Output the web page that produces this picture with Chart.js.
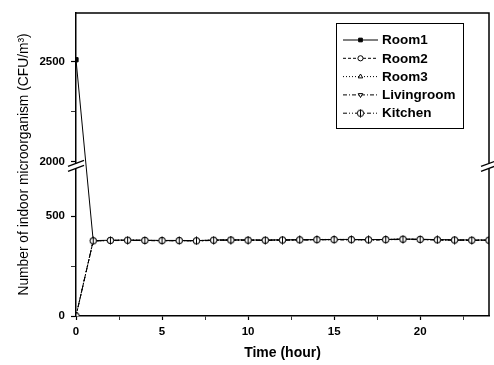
<!DOCTYPE html>
<html>
<head>
<meta charset="utf-8">
<script src="https://cdn.jsdelivr.net/npm/chart.js@4.4.1/dist/chart.umd.min.js"></script>
<style>
  html, body { margin: 0; padding: 0; background: #fff; }
  canvas { display: block; }
</style>
</head>
<body>
<canvas id="c" width="494" height="365"></canvas>
<script>
// hours on the x axis
const hours = [0, 1, 2, 3, 4, 5, 6, 7, 8, 9, 10, 11, 12, 13, 14, 15, 16, 17, 18, 19, 20, 21, 22, 23, 24];

// CFU/m3
const room1 =      [2510, 378, 380, 381, 380, 379, 379, 378, 381, 382, 381, 381, 382, 382, 383, 384, 384, 383, 384, 386, 385, 383, 382, 381, 381];
const room2 =      [0,    377, 379, 380, 379, 378, 378, 377, 380, 381, 381, 380, 381, 382, 383, 383, 383, 382, 383, 385, 384, 382, 381, 380, 380];
const room3 =      [0,    378, 379, 381, 380, 378, 379, 378, 381, 382, 381, 381, 382, 383, 384, 384, 384, 383, 384, 386, 384, 383, 382, 381, 381];
const livingroom = [0,    376, 378, 379, 378, 377, 377, 376, 379, 380, 380, 379, 380, 381, 382, 382, 382, 381, 382, 384, 383, 381, 380, 379, 379];
const kitchen =    [0,    377, 379, 380, 379, 378, 378, 377, 380, 381, 380, 380, 381, 382, 383, 383, 383, 382, 383, 385, 384, 382, 381, 380, 380];

const seriesNames = ['Room1', 'Room2', 'Room3', 'Livingroom', 'Kitchen'];

// y axis ticks (the broken axis), minor ones have no label
const yTicks = [0, 250, 500, 2000, 2250, 2500];
const yMinor = [250, 2250];
const xTicks = [0, 2.5, 5, 7.5, 10, 12.5, 15, 17.5, 20, 22.5];
const xLabelled = [0, 5, 10, 15, 20];

// axis break
const lowMax = 740;
const highMin = 1990;
const gapUnits = 25;

function squeeze(v) {
    if (v <= lowMax) return v;
    if (v >= highMin) return v - highMin + lowMax + gapUnits;
    return lowMax + gapUnits * (v - lowMax) / (highMin - lowMax);
}

// linear scale with a cut between lowMax and highMin
class BrokenScale extends Chart.LinearScale {
    getPixelForValue(v) {
        if (v === null || v === undefined || isNaN(v)) return NaN;
        return this.getPixelForDecimal(squeeze(v) / squeeze(this.max));
    }
    getValueForPixel(p) {
        const c = this.getDecimalForPixel(p) * squeeze(this.max);
        if (c <= lowMax) return c;
        if (c >= lowMax + gapUnits) return c + highMin - lowMax - gapUnits;
        return lowMax;
    }
}
BrokenScale.id = 'broken';
BrokenScale.defaults = Chart.LinearScale.defaults;
Chart.register(BrokenScale);

// kitchen marker: circle with a vertical bar
const kit = document.createElement('canvas');
kit.width = 9; kit.height = 9;
const k = kit.getContext('2d');
k.fillStyle = '#fff'; k.strokeStyle = '#000'; k.lineWidth = 1;
k.beginPath(); k.arc(4.5, 4.5, 3.2, 0, 2 * Math.PI); k.fill(); k.stroke();
k.beginPath(); k.moveTo(4.5, 0.5); k.lineTo(4.5, 8.5); k.stroke();

function pts(vals) {
    return hours.map((h, i) => ({ x: h, y: vals[i] }));
}

const styles = [
    { dash: [],                 style: 'rect',     rot: 0,   fill: '#000' },
    { dash: [3, 2],             style: 'circle',   rot: 0,   fill: '#fff' },
    { dash: [1, 2],             style: 'triangle', rot: 0,   fill: '#fff' },
    { dash: [4, 2, 1, 2],       style: 'triangle', rot: 180, fill: '#fff' },
    { dash: [4, 2, 1, 2, 1, 2], style: kit,        rot: 0,   fill: '#fff' }
];
const allValues = [room1, room2, room3, livingroom, kitchen];

// kitchen drawn on top, room1 at the bottom
const datasets = allValues.map((vals, i) => ({
    label: seriesNames[i],
    data: pts(vals),
    order: allValues.length - i,
    borderColor: '#000',
    borderWidth: 1,
    borderDash: styles[i].dash,
    pointStyle: styles[i].style,
    pointRotation: styles[i].rot,
    pointRadius: 3,
    pointBorderWidth: 1,
    pointBorderColor: '#000',
    pointBackgroundColor: styles[i].fill,
    tension: 0,
    fill: false
}));

// frame, axis breaks and legend box
const decor = {
    id: 'decor',
    afterDatasetsDraw(chart) {
        const ctx = chart.ctx;
        const a = chart.chartArea;
        const y = chart.scales.y;
        ctx.save();
        ctx.strokeStyle = '#000';
        ctx.lineWidth = 1.5;
        ctx.beginPath();
        ctx.moveTo(a.left, a.top);
        ctx.lineTo(a.right, a.top);
        ctx.lineTo(a.right, a.bottom);
        ctx.stroke();

        const yHi = y.getPixelForValue(highMin);
        const yLo = y.getPixelForValue(lowMax);
        [a.left, a.right].forEach(x => {
            ctx.fillStyle = '#fff';
            ctx.fillRect(x - 2, yHi, 4, yLo - yHi);
            ctx.lineWidth = 1.3;
            [yHi, yLo].forEach(yy => {
                ctx.beginPath();
                ctx.moveTo(x - 8, yy + 3);
                ctx.lineTo(x + 8, yy - 3);
                ctx.stroke();
            });
        });

        // legend
        const bx = 336, by = 23, bw = 127, bh = 105;
        ctx.fillStyle = '#fff';
        ctx.fillRect(bx, by, bw, bh);
        ctx.lineWidth = 1;
        ctx.strokeRect(bx + 0.5, by + 0.5, bw, bh);
        ctx.font = 'bold 13.5px "Liberation Sans", Arial, sans-serif';
        ctx.textBaseline = 'middle';
        chart.data.datasets.forEach((ds, i) => {
            const ly = 40 + i * 18.3;
            ctx.strokeStyle = '#000';
            ctx.lineWidth = 1;
            ctx.setLineDash(ds.borderDash);
            ctx.beginPath();
            ctx.moveTo(343, ly);
            ctx.lineTo(378, ly);
            ctx.stroke();
            ctx.setLineDash([]);
            ctx.fillStyle = ds.pointBackgroundColor;
            Chart.helpers.drawPoint(ctx, {
                pointStyle: ds.pointStyle,
                rotation: ds.pointRotation,
                radius: 2.6,
                borderWidth: 1
            }, 360.5, ly);
            ctx.fillStyle = '#000';
            ctx.fillText(ds.label, 382, ly + 0.5);
        });
        ctx.restore();
    }
};

new Chart(document.getElementById('c'), {
    type: 'line',
    data: { datasets: datasets },
    options: {
        responsive: false,
        devicePixelRatio: 1,
        animation: false,
        events: [],
        layout: { padding: { top: 11, right: 2, left: 0, bottom: 0 } },
        plugins: { legend: { display: false }, tooltip: { enabled: false } },
        scales: {
            x: {
                type: 'linear',
                min: 0,
                max: 24,
                bounds: 'data',
                afterFit: s => { s.height = 49; },
                afterBuildTicks: s => { s.ticks = xTicks.map(v => ({ value: v })); },
                grid: {
                    drawOnChartArea: false,
                    tickLength: 4,
                    tickColor: '#000',
                    tickWidth: c => (c.tick && xLabelled.includes(c.tick.value)) ? 1.2 : 0.8
                },
                border: { color: '#000', width: 1.5 },
                ticks: {
                    color: '#000',
                    padding: 5,
                    maxRotation: 0,
                    autoSkip: false,
                    font: { family: '"Liberation Sans", Arial, sans-serif', size: 11.5, weight: 'bold' },
                    callback: v => xLabelled.includes(v) ? String(v) : ''
                },
                title: {
                    display: true,
                    text: 'Time (hour)',
                    color: '#000',
                    font: { family: '"Liberation Sans", Arial, sans-serif', size: 14, weight: 'bold' },
                    padding: { top: 0, bottom: 3 }
                }
            },
            y: {
                type: 'broken',
                min: 0,
                max: 2745,
                bounds: 'data',
                afterFit: s => { s.width = 76; },
                afterBuildTicks: s => { s.ticks = yTicks.map(v => ({ value: v })); },
                grid: {
                    drawOnChartArea: false,
                    tickLength: 5,
                    tickColor: '#000',
                    tickWidth: c => (c.tick && yMinor.includes(c.tick.value)) ? 0.8 : 1.2
                },
                border: { color: '#000', width: 1.5 },
                ticks: {
                    color: '#000',
                    padding: 6,
                    autoSkip: false,
                    font: { family: '"Liberation Sans", Arial, sans-serif', size: 11.5, weight: 'bold' },
                    callback: v => yMinor.includes(v) ? '' : String(v)
                },
                title: {
                    display: true,
                    text: 'Number of indoor microorganism (CFU/m³)',
                    color: '#000',
                    font: { family: '"Liberation Sans", Arial, sans-serif', size: 13.8 },
                    padding: { top: 16, bottom: 0 }
                }
            }
        }
    },
    plugins: [decor]
});
</script>
</body>
</html>
